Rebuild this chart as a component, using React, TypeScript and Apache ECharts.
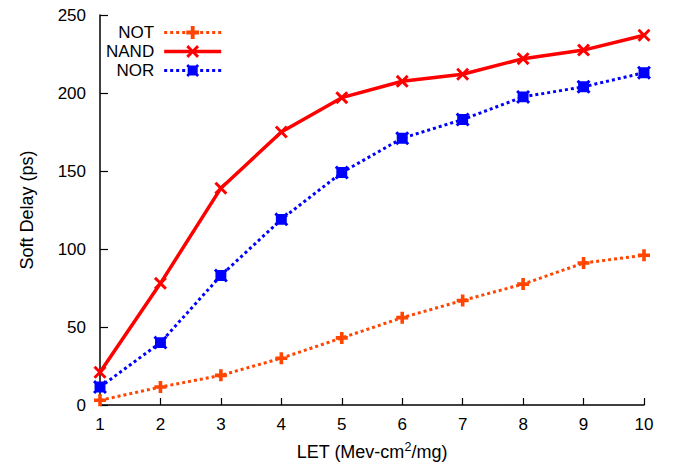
import React, { useEffect, useRef } from "react";
import * as echarts from "echarts";

const letValues = [1, 2, 3, 4, 5, 6, 7, 8, 9, 10];
const notDelay = [3, 11.5, 19, 30, 43, 56, 67, 77.5, 91, 96];
const nandDelay = [21, 78, 139, 175, 197, 207.5, 212, 222, 227.5, 237];
const norDelay = [11.5, 40, 83, 119, 149, 171, 183, 197.5, 204, 213];
const seriesNames = ["NOT", "NAND", "NOR"];

const plusSym = "path://M3.5,0 H6.5 V3.5 H10 V6.5 H6.5 V10 H3.5 V6.5 H0 V3.5 H3.5 Z";
const crossSym =
  "path://M0,1.6 L1.6,0 L5,3.4 L8.4,0 L10,1.6 L6.6,5 L10,8.4 L8.4,10 L5,6.6 L1.6,10 L0,8.4 L3.4,5 Z";
const sqxSym =
  "path://M0,1.5 L1.5,0 L2.6,1.1 H7.4 L8.5,0 L10,1.5 L8.9,2.6 V7.4 L10,8.5 L8.5,10 L7.4,8.9 H2.6 L1.5,10 L0,8.5 L1.1,7.4 V2.6 Z";

const font = "'Liberation Sans', Arial, sans-serif";
const fs = 17;

export default function App() {
  const ref = useRef<HTMLDivElement>(null);
  useEffect(() => {
    if (!ref.current) return;
    const chart = echarts.init(ref.current, undefined, { renderer: "svg" });
    const pairs = (ys: number[]) => letValues.map((x, i) => [x, ys[i]]);
    chart.setOption({
      animation: false,
      backgroundColor: "#ffffff",
      textStyle: { fontFamily: font },
      grid: { left: 100, right: 33, top: 15, bottom: 63, containLabel: false },
      legend: {
        orient: "vertical",
        align: "right",
        left: 101,
        top: 19,
        itemWidth: 57,
        itemHeight: 16,
        itemGap: 2,
        textStyle: { fontFamily: font, fontSize: 17, color: "#000", padding: [0, 5, 0, 0] },
        data: [
          { name: seriesNames[0], lineStyle: { width: 3, type: [3, 3], color: "#ff4500" } },
          { name: seriesNames[1], lineStyle: { width: 3.5, type: "solid", color: "#ff0000" } },
          { name: seriesNames[2], lineStyle: { width: 3, type: [3, 3], color: "#0000ff" } },
        ],
      },
      xAxis: {
        type: "value",
        min: 1,
        max: 10,
        interval: 1,
        name: "{a|LET (Mev-cm}{s|2}{a|/mg)}",
        nameLocation: "middle",
        nameGap: 35,
        nameTextStyle: {
          rich: {
            a: { fontFamily: font, fontSize: 18, color: "#000" },
            s: { fontFamily: font, fontSize: 12.5, color: "#000", padding: [0, 0, 10, 0] },
          },
        },
        axisLine: { lineStyle: { color: "#000", width: 1.5 } },
        axisTick: { inside: true, length: 7, lineStyle: { color: "#000", width: 1.2 } },
        axisLabel: { color: "#000", fontSize: fs, fontFamily: font, margin: 11 },
        splitLine: { show: false },
      },
      yAxis: {
        type: "value",
        min: 0,
        max: 250,
        interval: 50,
        name: "Soft Delay (ps)",
        nameLocation: "middle",
        nameRotate: 90,
        nameGap: 64,
        nameTextStyle: { fontFamily: font, fontSize: 18, color: "#000" },
        axisLine: { show: true, lineStyle: { color: "#000", width: 1.5 } },
        axisTick: { show: true, inside: true, length: 8, lineStyle: { color: "#000", width: 1.2 } },
        axisLabel: { color: "#000", fontSize: fs, fontFamily: font, margin: 14 },
        splitLine: { show: false },
      },
      series: [
        {
          name: "NOT",
          type: "line",
          data: pairs(notDelay),
          symbol: plusSym,
          symbolSize: 12,
          color: "#ff4500",
          lineStyle: { color: "#ff4500", width: 3, type: [3, 3] },
          itemStyle: { color: "#ff4500" },
        },
        {
          name: "NAND",
          type: "line",
          data: pairs(nandDelay),
          symbol: crossSym,
          symbolSize: 13,
          color: "#ff0000",
          lineStyle: { color: "#ff0000", width: 3.5, type: "solid" },
          itemStyle: { color: "#ff0000" },
        },
        {
          name: "NOR",
          type: "line",
          data: pairs(norDelay),
          symbol: sqxSym,
          symbolSize: 14,
          color: "#0000ff",
          lineStyle: { color: "#0000ff", width: 3, type: [3, 3] },
          itemStyle: { color: "#0000ff" },
        },
      ],
    });
    return () => chart.dispose();
  }, []);
  return (
    <div
      ref={ref}
      style={{ position: "fixed", left: 0, top: 0, width: 677, height: 468, background: "#fff" }}
    />
  );
}
